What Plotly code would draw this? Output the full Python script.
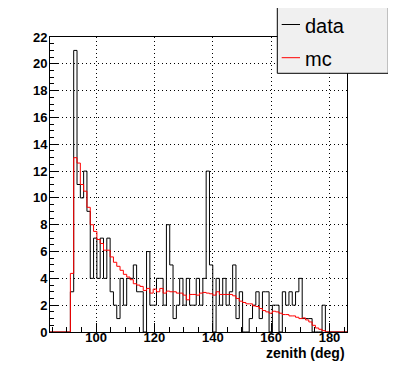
import plotly.graph_objects as go

# ---- data ----
bin_lo = 91.19      # lower edge of first filled bin (deg)
bin_width = 1.135   # bin width (deg)
x_range = [84.2, 186.0]

data_counts = [3, 21, 11, 10, 12, 9, 4, 7, 4, 7,
               4, 7, 3, 2, 1, 4, 2, 4, 4, 5,
               3, 3, 0, 6, 2, 2, 4, 4, 2, 8,
               5, 1, 2, 4, 2, 4, 2, 2, 4, 2,
               4, 12, 5, 0, 4, 2, 4, 2, 3, 5,
               1, 3, 0, 0, 1, 2, 3, 1, 3, 3,
               0, 2, 2, 0, 3, 2, 3, 2, 3, 4,
               1, 1, 1, 0, 0, 0, 2]

mc_counts = [4.37, 13.0, 12.6, 11.0, 10.5, 9.3, 8.0, 7.5, 6.9, 6.6,
             6.1, 6.1, 5.6, 5.2, 4.9, 4.6, 4.3, 4.1, 3.9, 3.6,
             3.5, 3.4, 3.1, 3.25, 2.9, 3.2, 3.0, 3.25, 2.9, 3.05,
             3.0, 3.0, 2.9, 2.9, 2.75, 2.4, 2.8, 2.8, 2.75, 2.9,
             2.95, 2.9, 2.85, 2.75, 3.0, 2.8, 2.8, 2.8, 2.8, 2.7,
             2.5, 2.3, 2.2, 2.1, 2.1, 1.95, 1.9, 1.75, 1.6, 1.5,
             1.4, 1.55, 1.5, 1.4, 1.3, 1.3, 1.2, 1.2, 1.1, 1.0,
             1.05, 0.9, 0.75, 0.5, 0.3, 0.2, 0.1]

y_ticks = [0, 2, 4, 6, 8, 10, 12, 14, 16, 18, 20, 22]
x_ticks = [100, 120, 140, 160, 180]


def step_xy(counts):
    edges = [bin_lo + i * bin_width for i in range(len(counts) + 1)]
    xs = [x_range[0]] + edges + [x_range[1]]
    ys = [0] + list(counts) + [0, 0]
    return xs, ys


fig = go.Figure()
dx, dy = step_xy(data_counts)
mx, my = step_xy(mc_counts)
fig.add_trace(go.Scatter(x=dx, y=dy, mode="lines", line=dict(shape="hv", color="black", width=1),
                         name="data", showlegend=False))
fig.add_trace(go.Scatter(x=mx, y=my, mode="lines", line=dict(shape="hv", color="red", width=1),
                         name="mc", showlegend=False))

# page body has an 8px margin; figure is sized/offset to compensate
OFF = 8
W, H = 396 - OFF, 373 - OFF
FL, FR, FT, FB = 50, 347, 37, 332      # frame edges in window pixels
L, R, T, B = FL - OFF, W - (FR - OFF), FT - OFF, H - (FB - OFF)
pw, ph = W - L - R, H - T - B


def px(xp):
    return (xp - FL) / pw


def py(yp):
    return (FB - yp) / ph


font_bold = dict(family="Liberation Sans, Arial, sans-serif", size=13, color="black", weight="bold")

fig.update_layout(
    width=W, height=H,
    margin=dict(l=L, r=R, t=T, b=B, pad=0),
    paper_bgcolor="white", plot_bgcolor="white",
    showlegend=False,
    xaxis=dict(range=x_range, tickmode="array", tickvals=x_ticks, ticktext=[str(v) for v in x_ticks],
               ticks="inside", ticklen=9, tickcolor="black", tickwidth=1,
               showline=True, linecolor="black", linewidth=1, mirror=True,
               showgrid=True, gridcolor="black", gridwidth=1, griddash="1px,3px",
               zeroline=False, tickfont=font_bold, ticklabelstandoff=-7,
               minor=dict(dtick=5, tick0=0, ticks="inside", ticklen=5, tickcolor="black", showgrid=False)),
    yaxis=dict(range=[0, 22], tickmode="array", tickvals=y_ticks, ticktext=[str(v) for v in y_ticks],
               ticks="inside", ticklen=8, tickcolor="black", tickwidth=1,
               showline=True, linecolor="black", linewidth=1, mirror=True,
               showgrid=True, gridcolor="black", gridwidth=1, griddash="1px,3px",
               zeroline=False, tickfont=font_bold, ticklabelstandoff=-1,
               minor=dict(dtick=0.5, tick0=0, ticks="inside", ticklen=4, tickcolor="black", showgrid=False)),
)

# axis title (ROOT style, right aligned below axis)
fig.add_annotation(text="zenith (deg)", xref="paper", yref="paper", x=1.0, y=py(353),
                   xanchor="right", yanchor="middle", showarrow=False,
                   font=dict(family="Liberation Sans, Arial, sans-serif", size=14, color="black", weight="bold"))

# legend box
fig.add_shape(type="rect", xref="paper", yref="paper", x0=px(277.3), x1=px(388.3), y0=py(73.3), y1=py(7.3),
              line=dict(color="black", width=1), fillcolor="#f0f0f0", layer="above")
legend_items = [("data", "black", 24.5), ("mc", "red", 57.7)]
for label, col, yp in legend_items:
    fig.add_shape(type="line", xref="paper", yref="paper", x0=px(281.7), x1=px(300), y0=py(yp), y1=py(yp),
                  line=dict(color=col, width=1), layer="above")
    fig.add_annotation(text=label, xref="paper", yref="paper", x=px(303), y=py(yp + 1.5),
                       xanchor="left", yanchor="middle", showarrow=False,
                       font=dict(family="Liberation Sans, Arial, sans-serif", size=20, color="black"))

fig.write_html("out.html")
